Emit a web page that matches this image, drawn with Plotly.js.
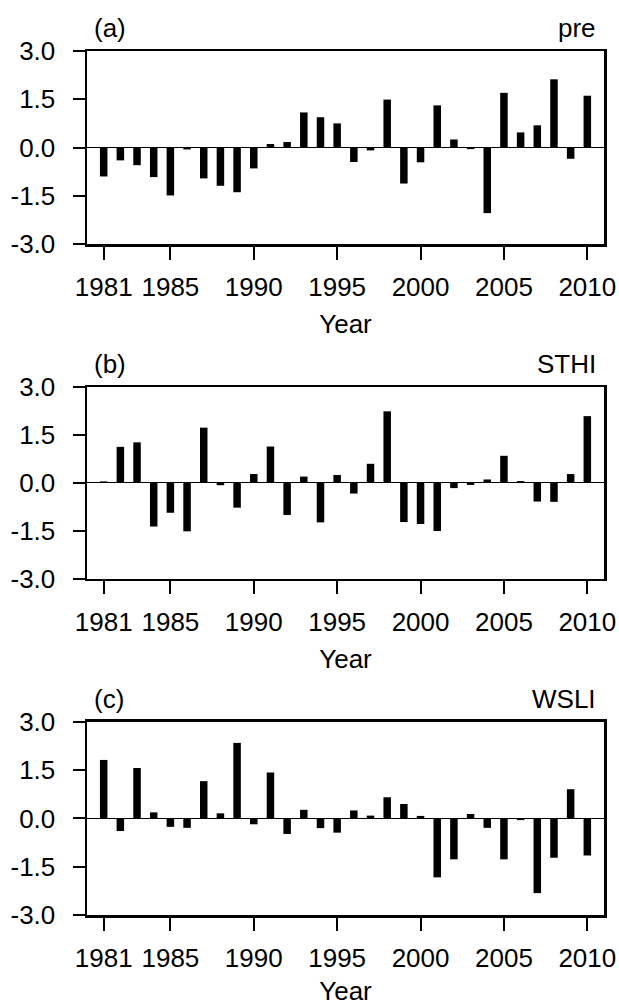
<!DOCTYPE html>
<html>
<head>
<meta charset="utf-8">
<script src="https://cdn.plot.ly/plotly-3.0.1.min.js"></script>
<style>html,body{margin:0;padding:0;background:#fff;}#chart{width:619px;height:1006px;}</style>
</head>
<body>
<div id="chart"></div>
<script>
var years = [1981,1982,1983,1984,1985,1986,1987,1988,1989,1990,1991,1992,1993,1994,1995,1996,1997,1998,1999,2000,2001,2002,2003,2004,2005,2006,2007,2008,2009,2010];
var preVals = [-0.90,-0.40,-0.55,-0.92,-1.49,-0.06,-0.96,-1.19,-1.39,-0.65,0.11,0.17,1.09,0.94,0.75,-0.45,-0.09,1.49,-1.12,-0.46,1.31,0.25,-0.05,-2.04,1.70,0.47,0.69,2.12,-0.35,1.61];
var sthiVals = [0.05,1.13,1.27,-1.36,-0.93,-1.51,1.73,-0.07,-0.77,0.28,1.14,-1.00,0.20,-1.23,0.25,-0.33,0.60,2.24,-1.22,-1.28,-1.50,-0.16,-0.06,0.11,0.85,0.06,-0.58,-0.59,0.28,2.09];
var wsliVals = [1.82,-0.39,1.57,0.19,-0.26,-0.29,1.16,0.16,2.35,-0.18,1.43,-0.48,0.27,-0.30,-0.44,0.25,0.09,0.66,0.45,0.08,-1.83,-1.27,0.14,-0.29,-1.27,-0.05,-2.32,-1.22,0.91,-1.15];
var panelLetters = ['(a)','(b)','(c)'];
var panelNames = ['pre','STHI','WSLI'];
var xTickVals = [1981,1985,1990,1995,2000,2005,2010];
var xTickText = ['1981','1985','1990','1995','2000','2005','2010'];
var yTickVals = [-3,-1.5,0,1.5,3];
var yTickText = ['-3.0','-1.5','0.0','1.5','3.0'];

var FONT = '"Liberation Sans", Arial, Helvetica, sans-serif';
var FS = 26;
var series = [preVals, sthiVals, wsliVals];
var domains = [[0.7766,1],[0.3889,0.6111],[0,0.2234]];

var data = [];
var layout = {
  width: 619, height: 1006,
  margin: {l: 87, r: 15, t: 51, b: 91},
  paper_bgcolor: '#fff', plot_bgcolor: '#fff',
  showlegend: false,
  font: {family: FONT, size: FS, color: '#000'},
  annotations: []
};

for (var i = 0; i < 3; i++) {
  var sfx = i === 0 ? '' : String(i + 1);
  data.push({
    type: 'bar', x: years, y: series[i], width: 0.45,
    marker: {color: '#000', line: {width: 0}},
    xaxis: 'x' + sfx, yaxis: 'y' + sfx, hoverinfo: 'x+y'
  });
  layout['xaxis' + sfx] = {
    domain: [0, 1], anchor: 'y' + sfx, range: [1980, 2011],
    tickmode: 'array', tickvals: xTickVals, ticktext: xTickText,
    ticks: 'outside', ticklen: 13, tickwidth: 2, tickcolor: '#000',
    showline: true, linewidth: 2.5, linecolor: '#000', mirror: true,
    showgrid: false, zeroline: false,
    tickfont: {family: FONT, size: FS, color: '#000'},
    ticklabelstandoff: 5,
    title: {text: 'Year', font: {family: FONT, size: FS, color: '#000'}, standoff: 14},
    automargin: false
  };
  layout['yaxis' + sfx] = {
    domain: domains[i], anchor: 'x' + sfx, range: [-3, 3],
    tickmode: 'array', tickvals: yTickVals, ticktext: yTickText,
    ticks: 'outside', ticklen: 12, tickwidth: 2, tickcolor: '#000',
    showline: true, linewidth: 2.5, linecolor: '#000', mirror: true,
    showgrid: false, zeroline: true, zerolinecolor: '#000', zerolinewidth: 1,
    tickfont: {family: FONT, size: FS, color: '#000'},
    ticklabelstandoff: 12,
    automargin: false
  };
  var topY = domains[i][1];
  layout.annotations.push({
    xref: 'paper', yref: 'paper', x: 0.0097, y: topY + 23/864,
    xanchor: 'left', yanchor: 'middle', showarrow: false,
    text: panelLetters[i], font: {family: FONT, size: FS, color: '#000'}
  });
  layout.annotations.push({
    xref: 'paper', yref: 'paper', x: 0.9884, y: topY + 23/864,
    xanchor: 'right', yanchor: 'middle', showarrow: false,
    text: panelNames[i], font: {family: FONT, size: FS, color: '#000'}
  });
}

Plotly.newPlot('chart', data, layout, {displayModeBar: false, staticPlot: true});
</script>
</body>
</html>
